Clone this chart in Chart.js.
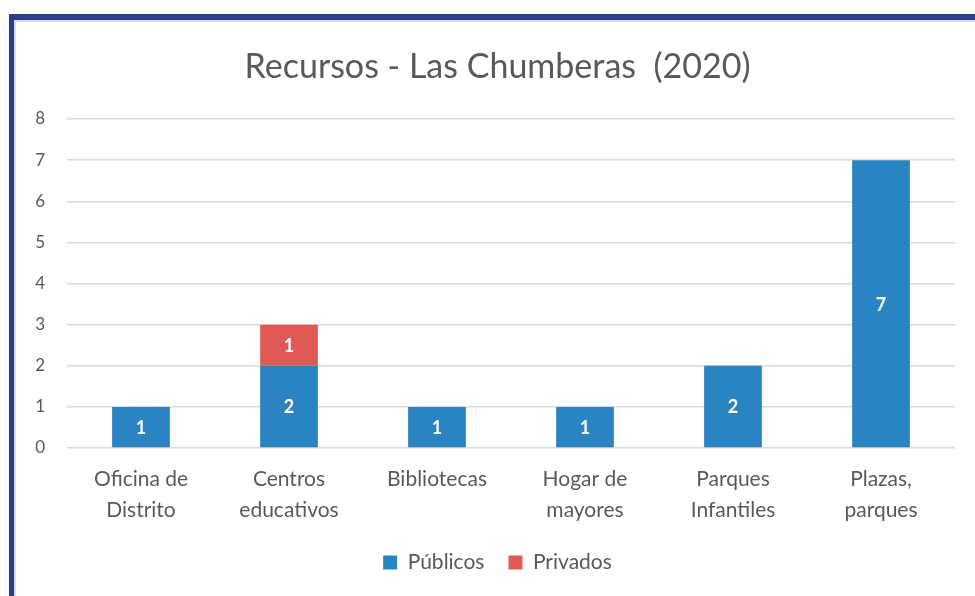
<!DOCTYPE html>
<html><head><meta charset="utf-8">
<script src="https://cdn.jsdelivr.net/npm/chart.js@4"></script>
<style>
html,body{margin:0;padding:0;background:#fff;width:975px;height:596px;overflow:hidden;}
#frame{position:absolute;left:9px;top:14px;width:980px;height:600px;border-top:6px solid #2B3F8E;border-left:5px solid #2B3F8E;box-shadow:inset 2px 2px 0 #D9DCE3;}
#wrap{position:absolute;left:0;top:0;width:975px;height:596px;}
</style></head><body>
<div id="frame"></div>
<div id="wrap"><canvas id="c" width="975" height="596"></canvas></div>
<script>
const categories = [["Oficina de","Distrito"],["Centros","educativos"],["Bibliotecas"],["Hogar de","mayores"],["Parques","Infantiles"],["Plazas,","parques"]];
const publicos = [1,2,1,1,2,7];
const privados = [null,1,null,null,null,null];
const yTicks = [0,1,2,3,4,5,6,7,8];
const seriesNames = ["Públicos","Privados"];
const titleText = "Recursos - Las Chumberas  (2020)";

const FONT = "Lato, 'Open Sans', sans-serif";
const labelPlugin = {
  id:'barLabels',
  afterDatasetsDraw(chart){
    const ctx = chart.ctx;
    ctx.save();
    ctx.font = "bold 18px " + FONT;
    ctx.fillStyle = "#ffffff";
    ctx.textAlign = "center";
    ctx.textBaseline = "middle";
    chart.data.datasets.forEach((ds,i)=>{
      const meta = chart.getDatasetMeta(i);
      meta.data.forEach((bar,j)=>{
        const v = ds.data[j];
        if(v==null) return;
        const y = (bar.y + bar.base)/2;
        ctx.fillText(String(v), bar.x, y+1);
      });
    });
    ctx.restore();
  }
};

new Chart(document.getElementById('c'),{
  type:'bar',
  data:{labels:categories,datasets:[
    {label:seriesNames[0],data:publicos,backgroundColor:'#2A84C2',borderWidth:0,categoryPercentage:1,barPercentage:0.39},
    {label:seriesNames[1],data:privados,backgroundColor:'#E05A55',borderWidth:0,categoryPercentage:1,barPercentage:0.39}
  ]},
  options:{
    responsive:false,animation:false,
    layout:{padding:{left:20,right:0,top:0,bottom:13}},
    plugins:{
      title:{display:true,text:titleText,color:'#595959',font:{family:FONT,size:34,weight:'normal'},padding:{top:46.6,bottom:31.6}},
      legend:{position:'bottom',labels:{boxWidth:14,boxHeight:14,color:'#595959',font:{family:FONT,size:21},padding:24}},
      tooltip:{enabled:false}
    },
    scales:{
      x:{stacked:true,grid:{display:false,drawTicks:false},border:{display:false},
        afterFit(s){s.height=80;},
        ticks:{color:'#595959',font:{family:FONT,size:21,lineHeight:1.476},padding:15.5,maxRotation:0,autoSkip:false}},
      y:{stacked:true,min:0,max:8,
        afterFit(s){s.width=47;},
        afterBuildTicks(s){s.ticks=yTicks.map(v=>({value:v}));},
        grid:{color:'#D9D9D9',lineWidth:1.5,drawTicks:false},border:{display:false},
        ticks:{color:'#595959',font:{family:FONT,size:17},padding:22}},
      yRight:{position:'right',min:0,max:8,
        afterFit(s){s.width=20;},
        grid:{display:false,drawTicks:false},border:{display:false},
        ticks:{display:false}}
    }
  },
  plugins:[labelPlugin]
});
</script>
</body></html>
